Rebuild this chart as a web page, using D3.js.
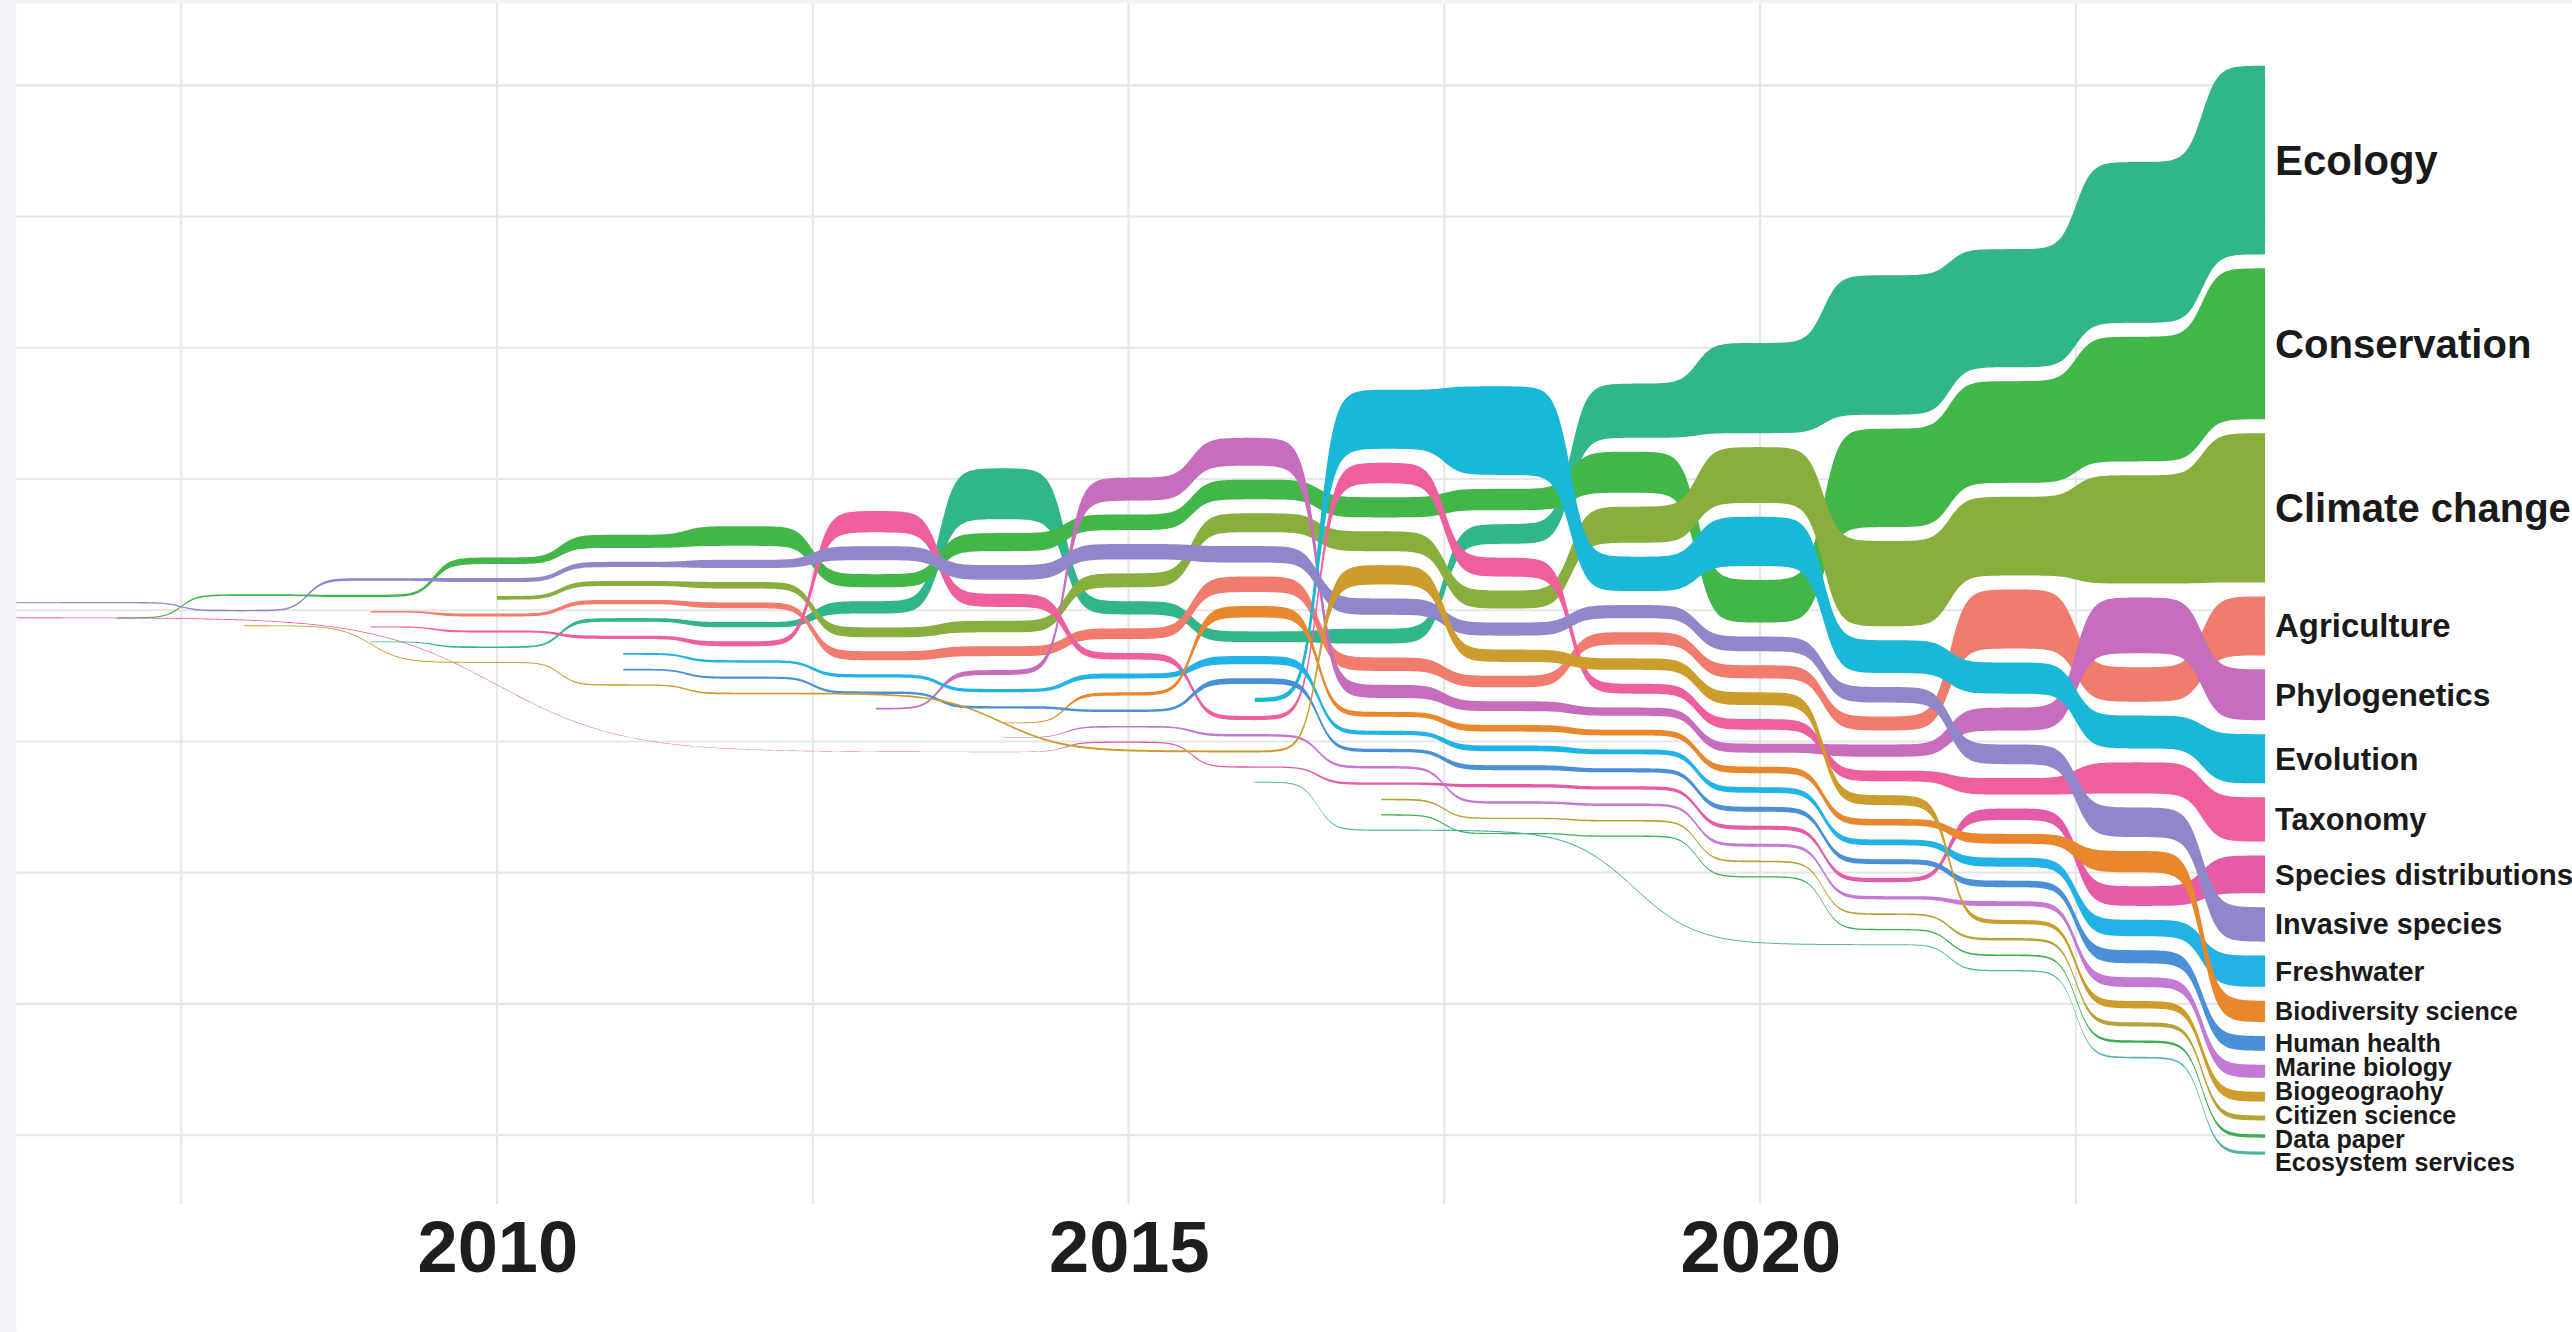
<!DOCTYPE html>
<html>
<head>
<meta charset="utf-8">
<script src="https://cdn.jsdelivr.net/npm/d3@7"></script>
<style>
  html, body { margin: 0; padding: 0; background: #f4f2f7; }
  svg { display: block; }
</style>
</head>
<body>
<div id="chart"></div>
<script>
// one column per year
var years = d3.range(2006, 2025);

// yearly values per topic, null = topic not present that year
var ecology      = [null, null, null, 0.5, 1.0, 2.2, 3.2, 7.5, 31, 8, 6.5, 9, 12, 33, 55, 85, 72, 98, 115];
var conservation = [null, 0.7, 1.0, 1.4, 4, 8, 12, 8, 11, 9.5, 12, 12.3, 13, 25, 26, 60, 62, 76, 92];
var climate      = [null, null, null, null, 2.2, 3, 4, 6, 7, 8.5, 11.5, 12.1, 11, 22, 34, 52, 48, 66, 91];
var agriculture  = [null, null, null, 0.9, 1.8, 2.6, 3.5, 5.5, 6, 6.5, 9.5, 8.2, 7, 7.5, 8, 8.5, 36, 21, 36];
var phylogenetics= [null, null, null, null, null, null, null, 1, 3, 14, 17, 8, 6, 5, 5.5, 7.5, 14, 34, 31];
var evolution    = [null, null, null, null, null, null, null, null, null, null, 2.6, 36, 54, 21, 30, 20, 19, 20, 30];
var taxonomy     = [null, null, null, 0.7, 1.2, 2, 3, 13, 8, 4, 2.5, 12.5, 11.5, 6, 6.5, 6.5, 10, 19, 27];
var speciesDist  = [0.5, null, null, null, null, null, null, null, 0.25, 0.8, 0.8, 1.4, 2, 2, 2.5, 2.5, 7, 12, 23];
var invasive     = [0.6, 0.8, 0.9, 1.6, 2.5, 3.2, 5, 8.5, 9, 9.4, 10, 10, 8, 8, 9, 9.5, 12, 18, 21];
var freshwater   = [null, null, null, null, null, 1.2, 1.5, 2, 2, 3, 5, 2.5, 3.5, 3, 3.5, 3.5, 5.5, 10, 19];
var biodivSci    = [null, null, null, null, null, null, null, null, 0.5, 2, 7, 3, 4, 3.5, 4, 4, 6, 13, 13];
var humanHealth  = [null, null, null, null, null, 1, 1.3, 1.5, 1.5, 1.5, 3.5, 2, 3, 2.5, 3, 3, 4, 8, 9];
var marine       = [null, null, null, null, null, null, null, null, 0.3, 1, 1.5, 1.5, 1.5, 1.5, 1.8, 2, 3, 6, 8];
var biogeography = [null, null, 0.5, null, 0.6, 0.8, 1, null, null, null, 1.2, 11.8, 7.5, 7, 7.8, 6, 2.5, 4.5, 6];
var citizen      = [null, null, null, null, null, null, null, null, null, null, null, 1, 0.8, 1, 1, 1, 1.5, 2.5, 3];
var dataPaper    = [null, null, null, null, null, null, null, null, null, null, null, 0.8, 0.7, 0.8, 0.8, 0.8, 1, 1.5, 2];
var ecoServices  = [null, null, null, null, null, null, null, null, null, null, 0.6, 0.7, null, null, null, 0.6, 0.8, 1, 1.9];

var topics = ["Ecology", "Conservation", "Climate change", "Agriculture", "Phylogenetics",
  "Evolution", "Taxonomy", "Species distributions", "Invasive species", "Freshwater",
  "Biodiversity science", "Human health", "Marine biology", "Biogeograohy",
  "Citizen science", "Data paper", "Ecosystem services"];
var topicValues = [ecology, conservation, climate, agriculture, phylogenetics, evolution,
  taxonomy, speciesDist, invasive, freshwater, biodivSci, humanHealth, marine,
  biogeography, citizen, dataPaper, ecoServices];
var axisYears = [2010, 2015, 2020];

var colours = ["#31b58a", "#43b649", "#88ae3e", "#f17b6d", "#c76dbe", "#19b8d7",
  "#ef5f9e", "#e55ba7", "#8f87c9", "#21b3e6", "#e8872b", "#4a90d7", "#c47ad4",
  "#cc9c2c", "#b5a33a", "#3caf52", "#52b4a4"];

var W = 1568, H = 812;
var panel = { left: 10, top: 2, right: 1381, bottom: 734 };
var space = 8.5;     // gap between neighbouring flows
var smooth = 8;      // steepness of the sigmoid between years

var svg = d3.select("#chart").append("svg")
  .attr("width", 2572)
  .attr("height", 1332)
  .attr("viewBox", "0 0 " + W + " " + H);

var x = d3.scaleLinear().domain([2006, 2024]).range([-5, panel.right]);
var y = d3.scaleLinear().domain([-320, 320]).range([52, 692]);
var labelSize = d3.scaleLog().domain([13, 115]).range([15.3, 25.5]).clamp(true);

svg.append("rect").attr("width", W).attr("height", H).attr("fill", "#f4f2f7");
svg.append("rect").attr("x", panel.left).attr("y", panel.top)
  .attr("width", W - panel.left).attr("height", H - panel.top).attr("fill", "#ffffff");

// grid
var grid = svg.append("g").attr("stroke", "#e6e6e6").attr("stroke-width", 1.3);
grid.selectAll(".h").data(d3.range(-320, 321, 80)).join("line")
  .attr("x1", panel.left).attr("x2", panel.right)
  .attr("y1", function(d) { return y(d); }).attr("y2", function(d) { return y(d); });
grid.selectAll(".v").data(d3.range(2007.5, 2024, 2.5)).join("line")
  .attr("x1", function(d) { return x(d); }).attr("x2", function(d) { return x(d); })
  .attr("y1", panel.top).attr("y2", panel.bottom);

// stack each year: biggest on top, centred on zero
var layout = years.map(function(yr, i) {
  var present = topicValues.map(function(s, k) { return { k: k, v: s[i] }; })
    .filter(function(d) { return d.v != null; })
    .sort(function(a, b) { return b.v - a.v; });
  var cum = 0;
  present.forEach(function(d) { d.y0 = cum; d.y1 = cum + d.v; cum += d.v + space; });
  var half = (cum - space) / 2;
  var pos = {};
  present.forEach(function(d) { pos[d.k] = [d.y0 - half, d.y1 - half]; });
  return pos;
});

function sigmoid(x0, x1, y0, y1) {
  var lo = 1 / (1 + Math.exp(smooth)), hi = 1 / (1 + Math.exp(-smooth));
  var n = Math.max(30, Math.round((x1 - x0) / 1.5));
  return d3.range(n + 1).map(function(i) {
    var t = i / n;
    var s = (1 / (1 + Math.exp(-(-smooth + 2 * smooth * t))) - lo) / (hi - lo);
    return [x0 + (x1 - x0) * t, y0 + (y1 - y0) * s];
  });
}

svg.append("clipPath").attr("id", "clip").append("rect")
  .attr("x", panel.left).attr("y", panel.top)
  .attr("width", panel.right - panel.left).attr("height", panel.bottom - panel.top);

var line = d3.line();
var flows = svg.append("g").attr("clip-path", "url(#clip)");

topics.forEach(function(name, k) {
  var pts = [];
  years.forEach(function(yr, i) {
    var p = layout[i][k];
    if (p) pts.push({ x: x(yr), top: y(p[0]), bot: y(p[1]) });
  });
  var upper = [], lower = [];
  for (var j = 0; j < pts.length - 1; j++) {
    var a = pts[j], b = pts[j + 1];
    var u = sigmoid(a.x, b.x, a.top, b.top), l = sigmoid(a.x, b.x, a.bot, b.bot);
    if (j > 0) { u.shift(); l.shift(); }
    upper = upper.concat(u);
    lower = lower.concat(l);
  }
  flows.append("path")
    .attr("d", line(upper.concat(lower.reverse())) + "Z")
    .attr("fill", colours[k]);
});

// labels at the last year, nudged apart where they would collide
var last = layout[years.length - 1];
var labels = topics.map(function(name, k) {
  var p = last[k];
  return { name: name, size: labelSize(topicValues[k][years.length - 1]), y: y((p[0] + p[1]) / 2) };
}).sort(function(a, b) { return a.y - b.y; });
for (var it = 0; it < 300; it++) {
  for (var i = 1; i < labels.length; i++) {
    var need = (labels[i - 1].size + labels[i].size) / 2 * 0.95;
    var over = labels[i - 1].y + need - labels[i].y;
    if (over > 0) { labels[i - 1].y -= over / 2; labels[i].y += over / 2; }
  }
}
svg.append("g")
  .style("font-family", "'Liberation Sans', Arial, Helvetica, sans-serif")
  .style("font-weight", "bold")
  .attr("fill", "#1a1a1a")
  .selectAll("text").data(labels).join("text")
  .attr("x", x(2024) + 6)
  .attr("y", function(d) { return d.y; })
  .attr("dy", "0.35em")
  .style("font-size", function(d) { return d.size + "px"; })
  .text(function(d) { return d.name; });

// x axis
var axis = svg.append("g")
  .attr("transform", "translate(0," + panel.bottom + ")")
  .call(d3.axisBottom(x).tickValues(axisYears).tickFormat(d3.format("d")).tickSize(0).tickPadding(10));
axis.select(".domain").remove();
axis.selectAll("text")
  .style("font-family", "'Liberation Sans', Arial, Helvetica, sans-serif")
  .style("font-weight", "bold")
  .style("font-size", "44px")
  .attr("fill", "#1e1e1e");
</script>
</body>
</html>
